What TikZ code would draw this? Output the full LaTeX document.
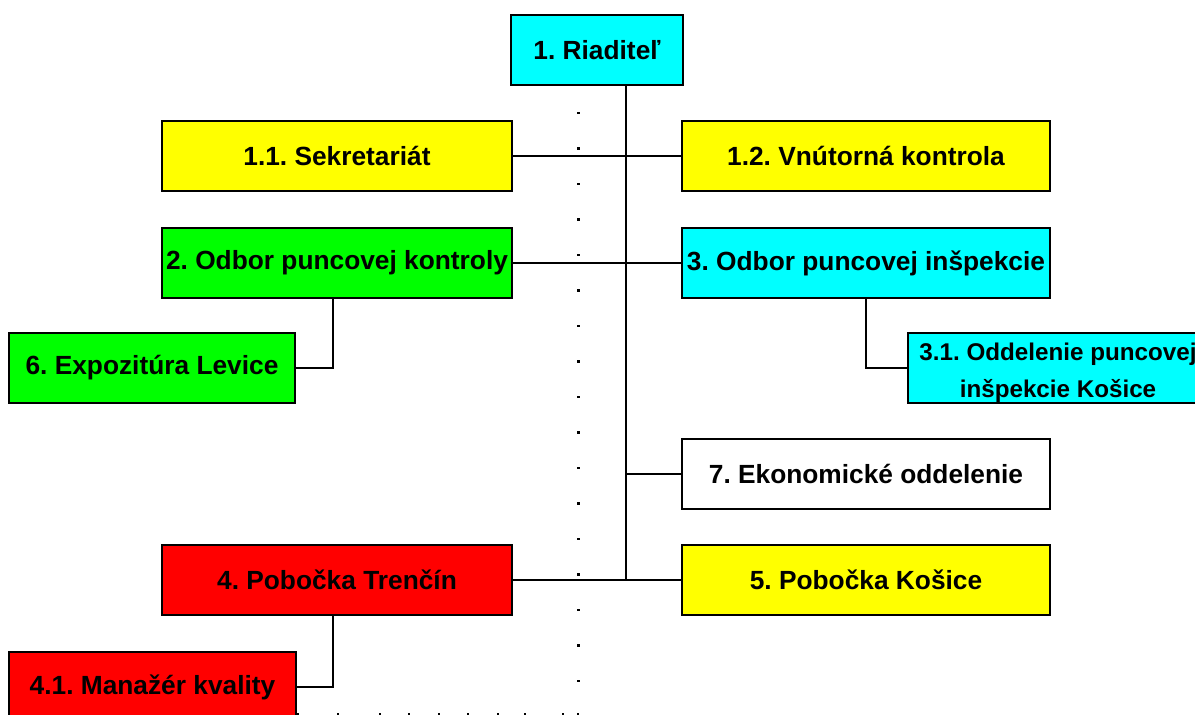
\documentclass[tikz,border=0pt]{standalone}
\usepackage{fontspec}
\setmainfont{Liberation Sans}
\definecolor{cy}{RGB}{0,255,255}
\definecolor{ye}{RGB}{255,255,0}
\definecolor{gr}{RGB}{0,255,0}
\definecolor{rd}{RGB}{255,0,0}
\frenchspacing
\tikzset{
  box/.style={draw=black, line width=2.4pt, rectangle, minimum height=70pt, inner sep=0pt,
    font=\fontsize{26.3}{37}\selectfont\bfseries\frenchspacing, text=black, align=center},
  conn/.style={draw=black, line width=2.4pt},
  dotmark/.style={fill=black}
}
\begin{document}
\begin{tikzpicture}[x=1pt,y=-1pt]
\useasboundingbox (0,0) rectangle (1195,715);
\clip (0,0) rectangle (1195,715);
\fill[white] (0,0) rectangle (1195,715);
% dotted guide
\foreach \i in {0,...,16} {\fill[dotmark] (577.3,{113+35.5*\i-1.2}) rectangle ++(2.5,2.5);}
\foreach \xx in {298,338,380,409,439,468,498,525,563,578} {\fill[dotmark] (\xx-1.2,712.5) rectangle ++(2.5,2.5);}
% nodes
\node[box, fill=cy, minimum width=172pt] (r) at (597,50) {1. Riaditeľ};
\node[box, fill=ye, minimum width=350pt] (s11) at (337,156) {1.1. Sekretariát};
\node[box, fill=ye, minimum width=368pt] (s12) at (866,156) {1.2. Vnútorná kontrola};
\node[box, fill=gr, minimum width=350pt] (o2) at (337,263) {2. Odbor puncovej kontroly};
\node[box, fill=cy, minimum width=368pt] (o3) at (866,263) {3. Odbor puncovej inšpekcie};
\node[box, fill=gr, minimum width=286pt] (e6) at (152,368) {6. Expozitúra Levice};
\node[box, fill=cy, minimum width=300pt] (o31) at (1058,368) {\smash{\raisebox{-9.5pt}{\fontsize{24.2}{37}\selectfont\begin{tabular}{@{}c@{}}3.1. Oddelenie puncovej\\inšpekcie Košice\end{tabular}}}};
\node[box, fill=white, minimum width=368pt] (e7) at (866,474) {7. Ekonomické oddelenie};
\node[box, fill=ye, minimum width=368pt] (p5) at (866,580) {5. Pobočka Košice};
\node[box, fill=rd, minimum width=350pt] (p4) at (337,580) {4. Pobočka Trenčín};
\node[box, fill=rd, minimum width=287pt] (m41) at (152.5,687) {4.1. Manažér kvality};
% connectors
\coordinate (tb) at (626,580);
\draw[conn] (r.south -| tb) -- (tb);
\draw[conn] (s11.east) -- (s12.west);
\draw[conn] (o2.east) -- (o3.west);
\draw[conn] (tb |- e7.west) -- (e7.west);
\draw[conn] (p4.east) -- (p5.west);
\draw[conn] ([xshift=-4pt]o2.south) |- (e6.east);
\draw[conn] (o3.south) |- (o31.west);
\draw[conn] ([xshift=-4pt]p4.south) |- (m41.east);
\end{tikzpicture}
\end{document}
